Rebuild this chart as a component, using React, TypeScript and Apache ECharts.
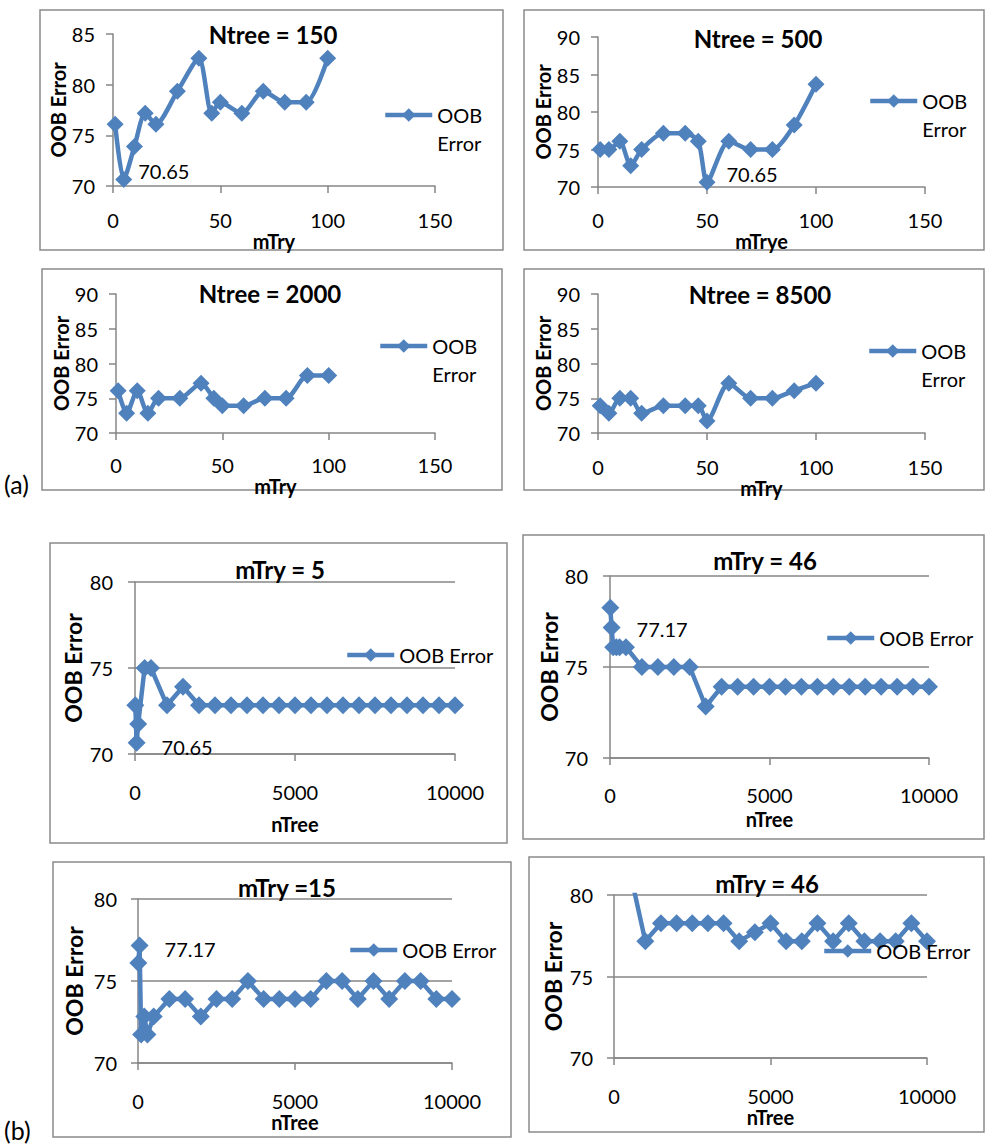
import React, { useEffect, useRef } from "react";
import * as echarts from "echarts";

// ---------- data ----------
const mTryValues = [1, 5, 10, 15, 20, 30, 40, 46, 50, 60, 70, 80, 90, 100];
const oobNtree150 = [76.09, 70.65, 73.91, 77.17, 76.09, 79.35, 82.61, 77.17, 78.26, 77.17, 79.35, 78.26, 78.26, 82.61];
const oobNtree500 = [75.0, 75.0, 76.09, 72.83, 75.0, 77.17, 77.17, 76.09, 70.65, 76.09, 75.0, 75.0, 78.26, 83.7];
const oobNtree2000 = [76.09, 72.83, 76.09, 72.83, 75.0, 75.0, 77.17, 75.0, 73.91, 73.91, 75.0, 75.0, 78.26, 78.26];
const oobNtree8500 = [73.91, 72.83, 75.0, 75.0, 72.83, 73.91, 73.91, 73.91, 71.74, 77.17, 75.0, 75.0, 76.09, 77.17];

const nTreeMtry5 = [10, 50, 100, 300, 500, 1000, 1500, 2000, 2500, 3000, 3500, 4000, 4500, 5000, 5500, 6000, 6500, 7000, 7500, 8000, 8500, 9000, 9500, 10000];
const oobMtry5 = [72.83, 70.65, 71.74, 75.0, 75.0, 72.83, 73.91, 72.83, 72.83, 72.83, 72.83, 72.83, 72.83, 72.83, 72.83, 72.83, 72.83, 72.83, 72.83, 72.83, 72.83, 72.83, 72.83, 72.83];

const nTreeMtry46 = [10, 50, 100, 200, 300, 500, 1000, 1500, 2000, 2500, 3000, 3500, 4000, 4500, 5000, 5500, 6000, 6500, 7000, 7500, 8000, 8500, 9000, 9500, 10000];
const oobMtry46 = [78.26, 77.17, 76.09, 76.09, 76.09, 76.09, 75.0, 75.0, 75.0, 75.0, 72.83, 73.91, 73.91, 73.91, 73.91, 73.91, 73.91, 73.91, 73.91, 73.91, 73.91, 73.91, 73.91, 73.91, 73.91];

const nTreeMtry15 = [10, 50, 100, 200, 300, 500, 1000, 1500, 2000, 2500, 3000, 3500, 4000, 4500, 5000, 5500, 6000, 6500, 7000, 7500, 8000, 8500, 9000, 9500, 10000];
const oobMtry15 = [76.09, 77.17, 71.74, 72.83, 71.74, 72.83, 73.91, 73.91, 72.83, 73.91, 73.91, 75.0, 73.91, 73.91, 73.91, 73.91, 75.0, 75.0, 73.91, 75.0, 73.91, 75.0, 75.0, 73.91, 73.91];

const nTreeMtry46b = [500, 1000, 1500, 2000, 2500, 3000, 3500, 4000, 4500, 5000, 5500, 6000, 6500, 7000, 7500, 8000, 8500, 9000, 9500, 10000];
const oobMtry46b = [81.52, 77.17, 78.26, 78.26, 78.26, 78.26, 78.26, 77.17, 77.72, 78.26, 77.17, 77.17, 78.26, 77.17, 78.26, 77.17, 77.17, 77.17, 78.26, 77.17];

const titles = ["Ntree = 150", "Ntree = 500", "Ntree = 2000", "Ntree = 8500", "mTry = 5", "mTry = 46", "mTry =15", "mTry = 46"];
const xNames = ["mTry", "mTrye", "mTry", "mTry", "nTree", "nTree", "nTree", "nTree"];
const seriesName = "OOB Error";
const partLabels = ["(a)", "(b)"];

// ---------- layout / style ----------
const BLUE = "#4F81BD";
const AXIS = "#868686";
const FONT = "Lato";

type Panel = {
  xs: number[];
  ys: number[];
  labelIndex: number | null;
  partA: boolean;
  yMax: number;
  grid: [number, number, number, number];
  box: [number, number, number, number];
  titleAt: [number, number];
  legendAt: [number, number];
  yNameGap: number;
  xNameGap: number;
  xLabelMargin: number;
  yLabelMargin: number;
  labelDist: number;
  labelDy: number;
};

const panels: Panel[] = [
  { xs: mTryValues, ys: oobNtree150, labelIndex: 1, partA: true, yMax: 85, grid: [113, 34, 322, 152], box: [40, 10, 463, 240], titleAt: [273, 34], legendAt: [383, 73], yNameGap: 42, xNameGap: 38, xLabelMargin: 24, yLabelMargin: 18, labelDist: 6, labelDy: -8 },
  { xs: mTryValues, ys: oobNtree500, labelIndex: 8, partA: true, yMax: 90, grid: [598, 37, 327, 150], box: [524, 10, 460, 240], titleAt: [758, 38], legendAt: [868, 59], yNameGap: 40, xNameGap: 38, xLabelMargin: 23, yLabelMargin: 18, labelDist: 11, labelDy: -8 },
  { xs: mTryValues, ys: oobNtree2000, labelIndex: null, partA: true, yMax: 90, grid: [116, 294, 319, 139], box: [42, 269, 460, 221], titleAt: [270, 293], legendAt: [378, 304], yNameGap: 45, xNameGap: 34, xLabelMargin: 22, yLabelMargin: 18, labelDist: 14, labelDy: 0 },
  { xs: mTryValues, ys: oobNtree8500, labelIndex: null, partA: true, yMax: 90, grid: [598, 294, 327, 139], box: [524, 269, 460, 221], titleAt: [760, 294], legendAt: [867, 309], yNameGap: 42, xNameGap: 35, xLabelMargin: 24, yLabelMargin: 18, labelDist: 14, labelDy: 0 },
  { xs: nTreeMtry5, ys: oobMtry5, labelIndex: 1, partA: false, yMax: 80, grid: [135, 582, 320, 172], box: [50, 543, 457, 300], titleAt: [280, 569], legendAt: [345, 645], yNameGap: 51, xNameGap: 60, xLabelMargin: 28, yLabelMargin: 22, labelDist: 16, labelDy: 4 },
  { xs: nTreeMtry46, ys: oobMtry46, labelIndex: 1, partA: false, yMax: 80, grid: [610, 576, 319, 182], box: [523, 535, 461, 304], titleAt: [765, 560], legendAt: [825, 628], yNameGap: 50, xNameGap: 51, xLabelMargin: 27, yLabelMargin: 22, labelDist: 16, labelDy: 1 },
  { xs: nTreeMtry15, ys: oobMtry15, labelIndex: 1, partA: false, yMax: 80, grid: [138, 899, 314, 164], box: [53, 862, 458, 275], titleAt: [287, 887], legendAt: [348, 940], yNameGap: 53, xNameGap: 47, xLabelMargin: 28, yLabelMargin: 21, labelDist: 16, labelDy: 4 },
  { xs: nTreeMtry46b, ys: oobMtry46b, labelIndex: null, partA: false, yMax: 80, grid: [614, 895, 313, 163], box: [529, 857, 455, 275], titleAt: [767, 883], legendAt: [822, 941], yNameGap: 50, xNameGap: 46, xLabelMargin: 28, yLabelMargin: 21, labelDist: 20, labelDy: 0 },
];

function buildOption() {
  const grid: any[] = [];
  const xAxis: any[] = [];
  const yAxis: any[] = [];
  const series: any[] = [];
  const title: any[] = [];
  const legend: any[] = [];
  const graphic: any[] = [];

  panels.forEach((p, i) => {
    grid.push({ left: p.grid[0], top: p.grid[1], width: p.grid[2], height: p.grid[3], containLabel: false });
    xAxis.push({
      type: "value",
      gridIndex: i,
      min: 0,
      max: p.partA ? 150 : 10000,
      interval: p.partA ? 50 : 5000,
      name: xNames[i],
      nameLocation: "middle",
      nameGap: p.xNameGap,
      nameTextStyle: { fontFamily: FONT, fontSize: 20, fontWeight: "bold", color: "#000" },
      axisLine: { show: true, onZero: false, lineStyle: { color: AXIS, width: 1.5 } },
      axisTick: { show: true, length: 7, lineStyle: { color: AXIS, width: 1.5 } },
      axisLabel: {
        fontFamily: FONT,
        fontSize: 20,
        color: "#000",
        margin: p.xLabelMargin,
        formatter: (v: number) => String(v),
      },
      splitLine: { show: false },
    });
    yAxis.push({
      type: "value",
      gridIndex: i,
      min: 70,
      max: p.yMax,
      interval: 5,
      name: seriesName,
      nameLocation: "middle",
      nameGap: p.yNameGap,
      nameTextStyle: { fontFamily: FONT, fontSize: p.partA ? 20 : 23, fontWeight: "bold", color: "#000" },
      axisLine: { show: true, lineStyle: { color: AXIS, width: 1.5 } },
      axisTick: { show: true, length: 7, lineStyle: { color: AXIS, width: 1.5 } },
      axisLabel: { fontFamily: FONT, fontSize: 20, color: "#000", margin: p.yLabelMargin },
      splitLine: { show: !p.partA, lineStyle: { color: AXIS, width: 1.5 } },
    });
    const data = p.xs.map((x, k) => {
      const item: any = { value: [x, p.ys[k]] };
      if (p.labelIndex === k) {
        item.label = { show: true, position: "right", distance: p.labelDist, offset: [0, p.labelDy] };
      }
      return item;
    });
    series.push({
      type: "line",
      name: seriesName,
      xAxisIndex: i,
      yAxisIndex: i,
      data,
      smooth: p.partA ? 0.25 : false,
      symbol: "diamond",
      symbolSize: p.partA ? 17 : 18,
      clip: true,
      lineStyle: { color: BLUE, width: 4.5 },
      itemStyle: { color: BLUE },
      label: {
        show: false,
        fontFamily: FONT,
        fontSize: 20,
        color: "#000",
        formatter: (q: any) => q.value[1].toFixed(2),
      },
      emphasis: { disabled: true },
    });
    title.push({
      text: titles[i],
      left: p.titleAt[0],
      top: p.titleAt[1],
      textAlign: "center",
      textVerticalAlign: "middle",
      padding: 0,
      textStyle: { fontFamily: FONT, fontSize: 24, fontWeight: "bold", color: "#000" },
    });
    legend.push({
      data: [seriesName],
      left: p.legendAt[0],
      top: p.legendAt[1],
      padding: 0,
      itemWidth: 47,
      itemHeight: 17,
      selectedMode: false,
      lineStyle: { width: 4.5, color: BLUE },
      itemStyle: { color: BLUE },
      formatter: p.partA ? "\nOOB\nError" : "OOB Error",
      textStyle: p.partA
        ? { fontFamily: FONT, fontSize: 20, color: "#000", lineHeight: 28 }
        : { fontFamily: FONT, fontSize: 20, color: "#000" },
    });
    graphic.push({
      type: "rect",
      shape: { x: p.box[0], y: p.box[1], width: p.box[2], height: p.box[3] },
      style: { fill: "none", stroke: "#8a8a8a", lineWidth: 1.5 },
      silent: true,
    });
  });

  graphic.push({
    type: "text",
    left: 4,
    top: 471,
    style: { text: partLabels[0], fontFamily: FONT, fontSize: 25, fill: "#000" },
  });
  graphic.push({
    type: "text",
    left: 4,
    top: 1117,
    style: { text: partLabels[1], fontFamily: FONT, fontSize: 25, fill: "#000" },
  });

  return {
    animation: false,
    backgroundColor: "#fff",
    textStyle: { fontFamily: FONT },
    grid,
    xAxis,
    yAxis,
    series,
    title,
    legend,
    graphic,
  };
}

export default function App() {
  const ref = useRef<HTMLDivElement>(null);
  useEffect(() => {
    if (!ref.current) return;
    const chart = echarts.init(ref.current, undefined, { renderer: "svg" });
    chart.setOption(buildOption() as any);
    return () => chart.dispose();
  }, []);
  return (
    <div
      ref={ref}
      style={{ position: "absolute", left: 0, top: 0, width: 985, height: 1144, background: "#fff" }}
    />
  );
}
